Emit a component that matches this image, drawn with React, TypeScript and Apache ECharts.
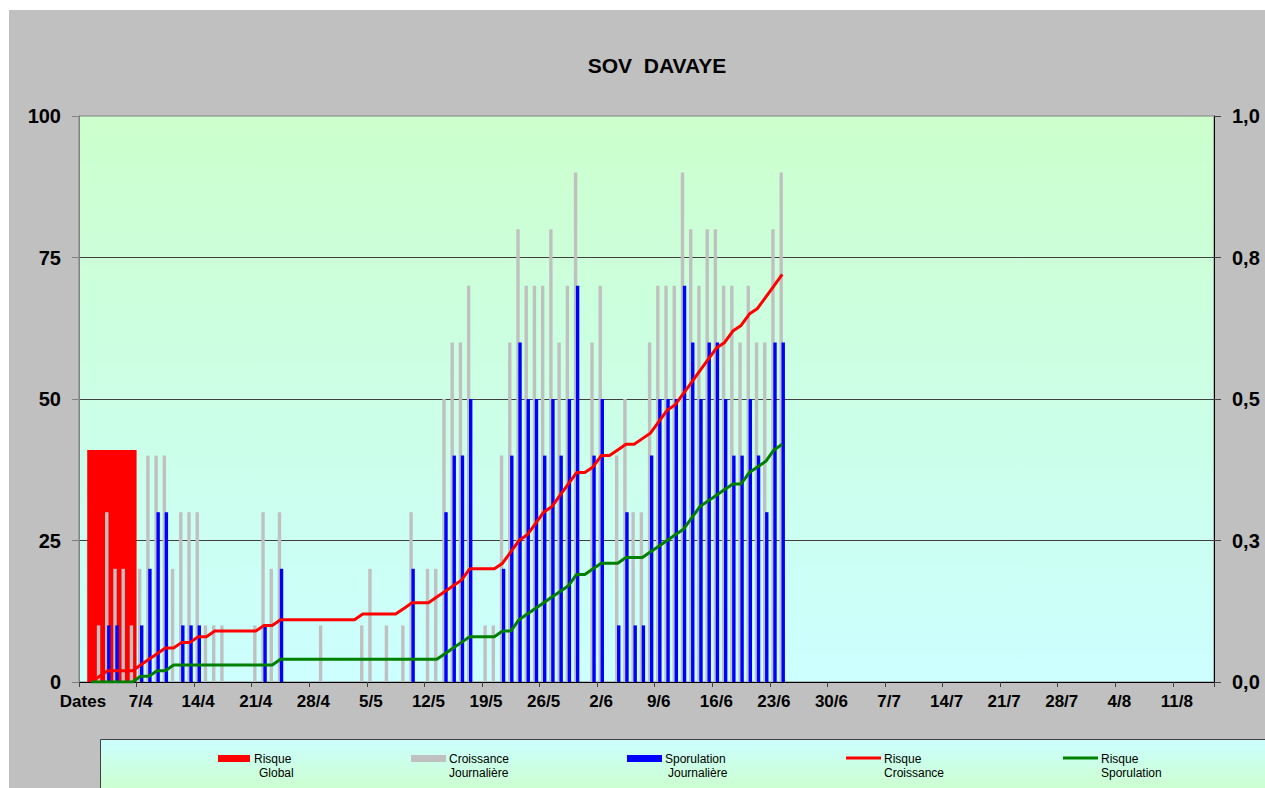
import React, { useEffect, useRef } from 'react';
import * as echarts from 'echarts';

const FONT = 'Arial, "Liberation Sans", Helvetica, sans-serif';

// Day categories: one per day starting 31/3 (138 days on the axis)
const DAY_COUNT = 138;
const dayCategories: string[] = Array.from({ length: DAY_COUNT }, (_, i) => {
  const d = new Date(2021, 2, 31 + i, 12);
  return `${d.getDate()}/${d.getMonth() + 1}`;
});

// Weekly tick labels (every 7 days from 31/3)
const xTickLabels = ['Dates', '7/4', '14/4', '21/4', '28/4', '5/5', '12/5', '19/5', '26/5', '2/6', '9/6', '16/6', '23/6', '30/6', '7/7', '14/7', '21/7', '28/7', '4/8', '11/8'];
const rightTickLabels = ['0,0', '0,3', '0,5', '0,8', '1,0'];

// Risque Global: [start day, end day, value]
const riskGlobal = [[1, 7, 41]];

// Croissance Journalière (grey bars), day 0 = 31/3
const croissance = [
  0, 0, 10, 30, 20, 20, 10, 20, 40, 40,
  40, 20, 30, 30, 30, 10, 10, 10, 0, 0,
  0, 10, 30, 20, 30, 0, 0, 0, 0, 10,
  0, 0, 0, 0, 10, 20, 0, 10, 0, 10,
  30, 0, 20, 20, 50, 60, 60, 70, 0, 10,
  10, 40, 60, 80, 70, 70, 70, 80, 60, 70,
  90, 0, 60, 70, 0, 40, 50, 30, 30, 60,
  70, 70, 70, 90, 80, 70, 80, 80, 70, 70,
  60, 70, 60, 60, 80, 90,
];

// Sporulation Journalière (blue bars)
const sporulation = [
  0, 0, 0, 10, 10, 0, 0, 10, 20, 30,
  30, 0, 10, 10, 10, 0, 0, 0, 0, 0,
  0, 0, 10, 0, 20, 0, 0, 0, 0, 0,
  0, 0, 0, 0, 0, 0, 0, 0, 0, 0,
  20, 0, 0, 0, 30, 40, 40, 50, 0, 0,
  0, 20, 40, 60, 50, 50, 40, 50, 40, 50,
  70, 0, 40, 50, 0, 10, 30, 10, 10, 40,
  50, 50, 50, 70, 60, 50, 60, 60, 50, 40,
  40, 50, 40, 30, 60, 60,
];

// Risque Croissance (red line, right axis)
const risqueCroissance = [
  null, 0, 0.01, 0.02, 0.02, 0.02, 0.02, 0.03, 0.04, 0.05,
  0.06, 0.06, 0.07, 0.07, 0.08, 0.08, 0.09, 0.09, 0.09, 0.09,
  0.09, 0.09, 0.10, 0.10, 0.11, 0.11, 0.11, 0.11, 0.11, 0.11,
  0.11, 0.11, 0.11, 0.11, 0.12, 0.12, 0.12, 0.12, 0.12, 0.13,
  0.14, 0.14, 0.14, 0.15, 0.16, 0.17, 0.18, 0.20, 0.20, 0.20,
  0.20, 0.21, 0.23, 0.25, 0.26, 0.28, 0.30, 0.31, 0.33, 0.35,
  0.37, 0.37, 0.38, 0.40, 0.40, 0.41, 0.42, 0.42, 0.43, 0.44,
  0.46, 0.48, 0.49, 0.51, 0.53, 0.55, 0.57, 0.59, 0.60, 0.62,
  0.63, 0.65, 0.66, 0.68, 0.70, 0.72,
];

// Risque Sporulation (green line, right axis)
const risqueSporulation = [
  null, 0, 0, 0, 0, 0, 0, 0.01, 0.01, 0.02,
  0.02, 0.03, 0.03, 0.03, 0.03, 0.03, 0.03, 0.03, 0.03, 0.03,
  0.03, 0.03, 0.03, 0.03, 0.04, 0.04, 0.04, 0.04, 0.04, 0.04,
  0.04, 0.04, 0.04, 0.04, 0.04, 0.04, 0.04, 0.04, 0.04, 0.04,
  0.04, 0.04, 0.04, 0.04, 0.05, 0.06, 0.07, 0.08, 0.08, 0.08,
  0.08, 0.09, 0.09, 0.11, 0.12, 0.13, 0.14, 0.15, 0.16, 0.17,
  0.19, 0.19, 0.20, 0.21, 0.21, 0.21, 0.22, 0.22, 0.22, 0.23,
  0.24, 0.25, 0.26, 0.27, 0.29, 0.31, 0.32, 0.33, 0.34, 0.35,
  0.35, 0.37, 0.38, 0.39, 0.41, 0.42,
];

const legendItems = [
  { kind: 'rect', color: '#FF0000', x: 218, w: 32, l1: 'Risque', l2: 'Global', t1: 254, t2: 259 },
  { kind: 'rect', color: '#C0C0C0', x: 411, w: 35, l1: 'Croissance', l2: 'Journalière', t1: 449, t2: 449 },
  { kind: 'rect', color: '#0000FF', x: 627, w: 35, l1: 'Sporulation', l2: 'Journalière', t1: 665, t2: 668 },
  { kind: 'line', color: '#FF0000', x: 846, w: 35, l1: 'Risque', l2: 'Croissance', t1: 884, t2: 884 },
  { kind: 'line', color: '#008000', x: 1063, w: 35, l1: 'Risque', l2: 'Sporulation', t1: 1101, t2: 1101 },
];

export default function App() {
  const ref = useRef<HTMLDivElement>(null);
  useEffect(() => {
    if (!ref.current) return;
    const chart = echarts.init(ref.current, null, { renderer: 'svg' });

    const legendGraphics: any[] = [];
    legendItems.forEach((it) => {
      if (it.kind === 'rect') {
        legendGraphics.push({ type: 'rect', shape: { x: it.x, y: 755, width: it.w, height: 7 }, style: { fill: it.color }, z: 101 });
      } else {
        legendGraphics.push({ type: 'line', shape: { x1: it.x, y1: 758, x2: it.x + it.w, y2: 758 }, style: { stroke: it.color, lineWidth: 3 }, z: 101 });
      }
      legendGraphics.push({ type: 'text', x: it.t1, y: 759, style: { text: it.l1, font: `12px ${FONT}`, fill: '#000', textAlign: 'left', textVerticalAlign: 'middle' }, z: 101 });
      legendGraphics.push({ type: 'text', x: it.t2, y: 773, style: { text: it.l2, font: `12px ${FONT}`, fill: '#000', textAlign: 'left', textVerticalAlign: 'middle' }, z: 101 });
    });

    const option: any = {
      animation: false,
      backgroundColor: '#C0C0C0',
      textStyle: { fontFamily: FONT },
      grid: {
        left: 79, top: 116, width: 1135, height: 566, show: true,
        backgroundColor: { type: 'linear', x: 0, y: 0, x2: 0, y2: 1, colorStops: [{ offset: 0, color: '#CCFFCC' }, { offset: 1, color: '#CCFFFF' }] },
        borderColor: '#808080', borderWidth: 1,
      },
      xAxis: [
        {
          type: 'value', min: 0, max: DAY_COUNT, interval: 7, position: 'bottom',
          axisLine: { show: true, lineStyle: { color: '#000', width: 1 } },
          axisTick: { show: true, length: 5, lineStyle: { color: '#404040' } },
          splitLine: { show: false },
          axisLabel: {
            formatter: (v: number) => xTickLabels[v / 7] ?? '',
            fontSize: 17, fontWeight: 'bold', color: '#000', margin: 11, padding: [0, 0, 0, 8], fontFamily: FONT,
          },
        },
        { type: 'category', data: dayCategories, show: false, boundaryGap: true, position: 'bottom' },
      ],
      yAxis: [
        {
          type: 'value', min: 0, max: 100, interval: 25, position: 'left',
          axisLine: { show: true, lineStyle: { color: '#808080' } },
          axisTick: { show: true, length: 7, lineStyle: { color: '#808080' } },
          splitLine: { show: true, showMinLine: false, showMaxLine: false, lineStyle: { color: '#404040', width: 1 } },
          axisLabel: { fontSize: 20, fontWeight: 'bold', color: '#000', margin: 18, fontFamily: FONT },
        },
        {
          type: 'value', min: 0, max: 1, interval: 0.25, position: 'right',
          axisLine: { show: true, lineStyle: { color: '#000' } },
          axisTick: { show: true, length: 7, lineStyle: { color: '#404040' } },
          splitLine: { show: false },
          axisLabel: {
            formatter: (v: number) => rightTickLabels[Math.round(v / 0.25)] ?? '',
            fontSize: 20, fontWeight: 'bold', color: '#000', margin: 18, fontFamily: FONT,
          },
        },
      ],
      graphic: [
        { type: 'rect', shape: { x: 0, y: 0, width: 1265, height: 10 }, style: { fill: '#FFFFFF' }, z: 100 },
        { type: 'rect', shape: { x: 0, y: 0, width: 9, height: 788 }, style: { fill: '#FFFFFF' }, z: 100 },
        { type: 'text', x: 657, y: 65, style: { text: 'SOV  DAVAYE', font: `bold 21px ${FONT}`, fill: '#000', textAlign: 'center', textVerticalAlign: 'middle' }, z: 100 },
        {
          type: 'rect', shape: { x: 100.5, y: 739.5, width: 1200, height: 52 },
          style: { stroke: '#404040', lineWidth: 1, fill: { type: 'linear', x: 0, y: 0, x2: 0, y2: 1, colorStops: [{ offset: 0, color: '#CCFFFF' }, { offset: 1, color: '#CCFFCC' }] } },
          z: 100,
        },
        ...legendGraphics,
      ],
      series: [
        {
          type: 'custom', name: 'Risque Global', xAxisIndex: 0, yAxisIndex: 0, z: 1,
          encode: { x: [0, 1], y: 2 },
          renderItem: (_p: any, api: any) => {
            const p0 = api.coord([api.value(0), api.value(2)]);
            const p1 = api.coord([api.value(1), 0]);
            return { type: 'rect', shape: { x: p0[0], y: p0[1], width: p1[0] - p0[0], height: p1[1] - p0[1] }, style: { fill: '#FF0000' } };
          },
          data: riskGlobal,
        },
        {
          type: 'bar', name: 'Croissance Journalière', xAxisIndex: 1, yAxisIndex: 0, z: 2,
          data: croissance, barWidth: 3.4, barGap: '-40%', itemStyle: { color: '#C0C0C0' },
        },
        {
          type: 'bar', name: 'Sporulation Journalière', xAxisIndex: 1, yAxisIndex: 0, z: 2,
          data: sporulation, barWidth: 3.4, barGap: '-40%', itemStyle: { color: '#0000FF' },
        },
        {
          type: 'line', name: 'Risque Croissance', xAxisIndex: 1, yAxisIndex: 1, z: 3,
          data: risqueCroissance, showSymbol: false, symbol: 'none', lineStyle: { color: '#FF0000', width: 3 }, itemStyle: { color: '#FF0000' },
        },
        {
          type: 'line', name: 'Risque Sporulation', xAxisIndex: 1, yAxisIndex: 1, z: 3,
          data: risqueSporulation, showSymbol: false, symbol: 'none', lineStyle: { color: '#008000', width: 3 }, itemStyle: { color: '#008000' },
        },
      ],
    };
    chart.setOption(option);
    return () => chart.dispose();
  }, []);
  return <div ref={ref} style={{ position: 'fixed', left: 0, top: 0, width: 1265, height: 788 }} />;
}
